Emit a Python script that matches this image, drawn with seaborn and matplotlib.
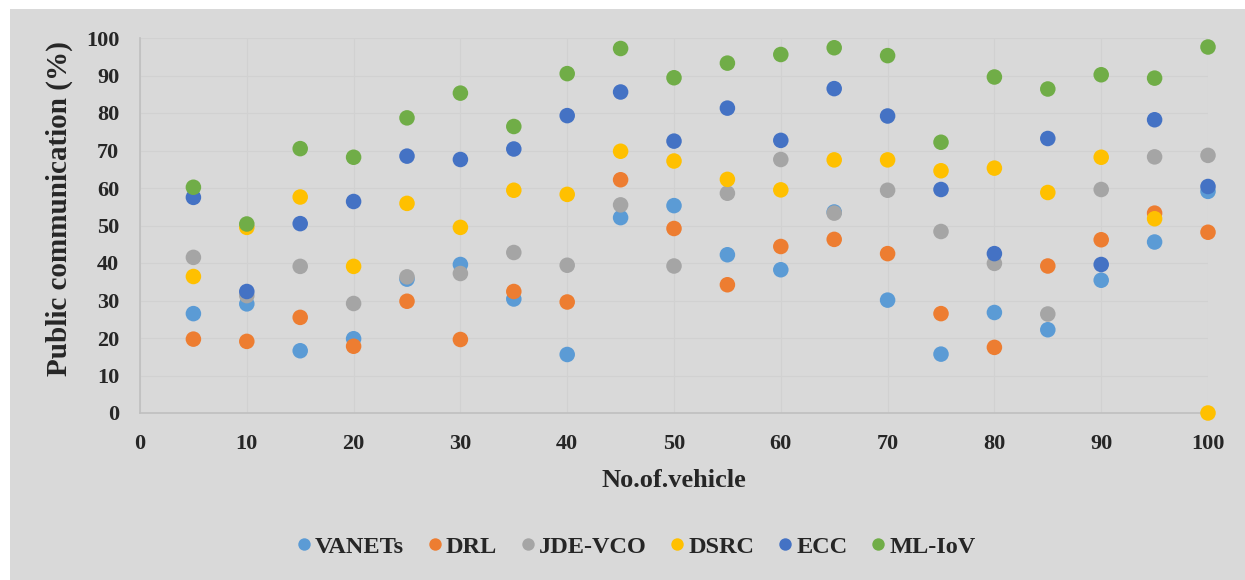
import pandas as pd
import matplotlib
matplotlib.use("Agg")
import matplotlib.pyplot as plt
import seaborn as sns
from matplotlib.patches import Rectangle

# data
vehicles = [5, 10, 15, 20, 25, 30, 35, 40, 45, 50, 55, 60, 65, 70, 75, 80, 85, 90, 95, 100]
vanets = [26.5, 29.1, 16.6, 19.8, 35.7, 39.6, 30.4, 15.6, 52.1, 55.3, 42.2, 38.2, 53.6, 30.1, 15.7, 26.8, 22.2, 35.4, 45.6, 59.1]
drl = [19.7, 19.1, 25.5, 17.8, 29.8, 19.6, 32.4, 29.6, 62.2, 49.2, 34.2, 44.4, 46.3, 42.5, 26.5, 17.5, 39.2, 46.2, 53.3, 48.2]
jde_vco = [41.5, 31.3, 39.1, 29.2, 36.3, 37.2, 42.8, 39.4, 55.5, 39.2, 58.6, 67.6, 53.3, 59.4, 48.4, 39.9, 26.4, 59.6, 68.3, 68.7]
dsrc = [36.4, 49.5, 57.6, 39.1, 55.9, 49.5, 59.4, 58.3, 69.8, 67.2, 62.3, 59.5, 67.5, 67.5, 64.6, 65.3, 58.8, 68.2, 51.8, 0.0]
ecc = [57.5, 32.4, 50.5, 56.4, 68.5, 67.6, 70.4, 79.3, 85.6, 72.5, 81.3, 72.7, 86.5, 79.2, 59.6, 42.5, 73.2, 39.6, 78.2, 60.4]
ml_iov = [60.2, 50.4, 70.5, 68.2, 78.7, 85.3, 76.4, 90.5, 97.2, 89.4, 93.3, 95.6, 97.4, 95.3, 72.2, 89.6, 86.4, 90.2, 89.3, 97.6]

series = {"VANETs": vanets, "DRL": drl, "JDE-VCO": jde_vco,
          "DSRC": dsrc, "ECC": ecc, "ML-IoV": ml_iov}
colors = ["#5B9BD5", "#ED7D31", "#A5A5A5", "#FFC000", "#4472C4", "#70AD47"]

rows = []
for name, vals in series.items():
    for x, y in zip(vehicles, vals):
        rows.append({"No.of.vehicle": x, "value": y, "method": name})
df = pd.DataFrame(rows)

sns.set_style("white")
plt.rcParams['font.family'] = ['Liberation Serif', 'DejaVu Serif']
plt.rcParams['font.weight'] = 'bold'

bg = "#D9D9D9"
fig = plt.figure(figsize=(12.45, 5.8), dpi=100)
fig.patch.set_facecolor("white")
fig.patches.append(Rectangle((10 / 1245, 0), 1, 1 - 9 / 580, transform=fig.transFigure,
                             facecolor=bg, edgecolor="none", zorder=-10))

ax = fig.add_axes([140 / 1245, 1 - 413 / 580, (1208 - 140) / 1245, (413 - 38) / 580])
ax.set_facecolor(bg)

sns.scatterplot(data=df, x="No.of.vehicle", y="value", hue="method",
                palette=colors, s=125, linewidth=0, ax=ax, zorder=3, clip_on=False)

ax.set_xlim(0, 100)
ax.set_ylim(0, 100)
ax.set_xticks(range(0, 101, 10))
ax.set_yticks(range(0, 101, 10))
ax.tick_params(axis="both", length=0, labelsize=16)
ax.tick_params(axis="x", pad=15)
ax.tick_params(axis="y", pad=15)
for lab in ax.get_xticklabels() + ax.get_yticklabels():
    lab.set_fontweight("bold")

ax.grid(True, color="#D1D1D1", linewidth=0.8)
ax.set_axisbelow(True)
for side in ["top", "right"]:
    ax.spines[side].set_visible(False)
for side in ["left", "bottom"]:
    ax.spines[side].set_color("#BFBFBF")
    ax.spines[side].set_linewidth(1.2)

ax.set_xlabel("No.of.vehicle", fontsize=19, fontweight="bold", labelpad=11)
ax.set_ylabel("Public communication (%)", fontsize=21, fontweight="bold")
ax.yaxis.set_label_coords(-0.063, 0.545)

handles, labels = ax.get_legend_handles_labels()
ax.legend(handles, labels, loc="center", bbox_to_anchor=(0.4644, -0.357), ncol=6,
          frameon=False, prop={"weight": "bold", "size": 17.5},
          handlelength=0.6, handletextpad=0.17, columnspacing=0.95, markerscale=0.8)

fig.savefig("out.png", dpi=100, facecolor=fig.get_facecolor())
